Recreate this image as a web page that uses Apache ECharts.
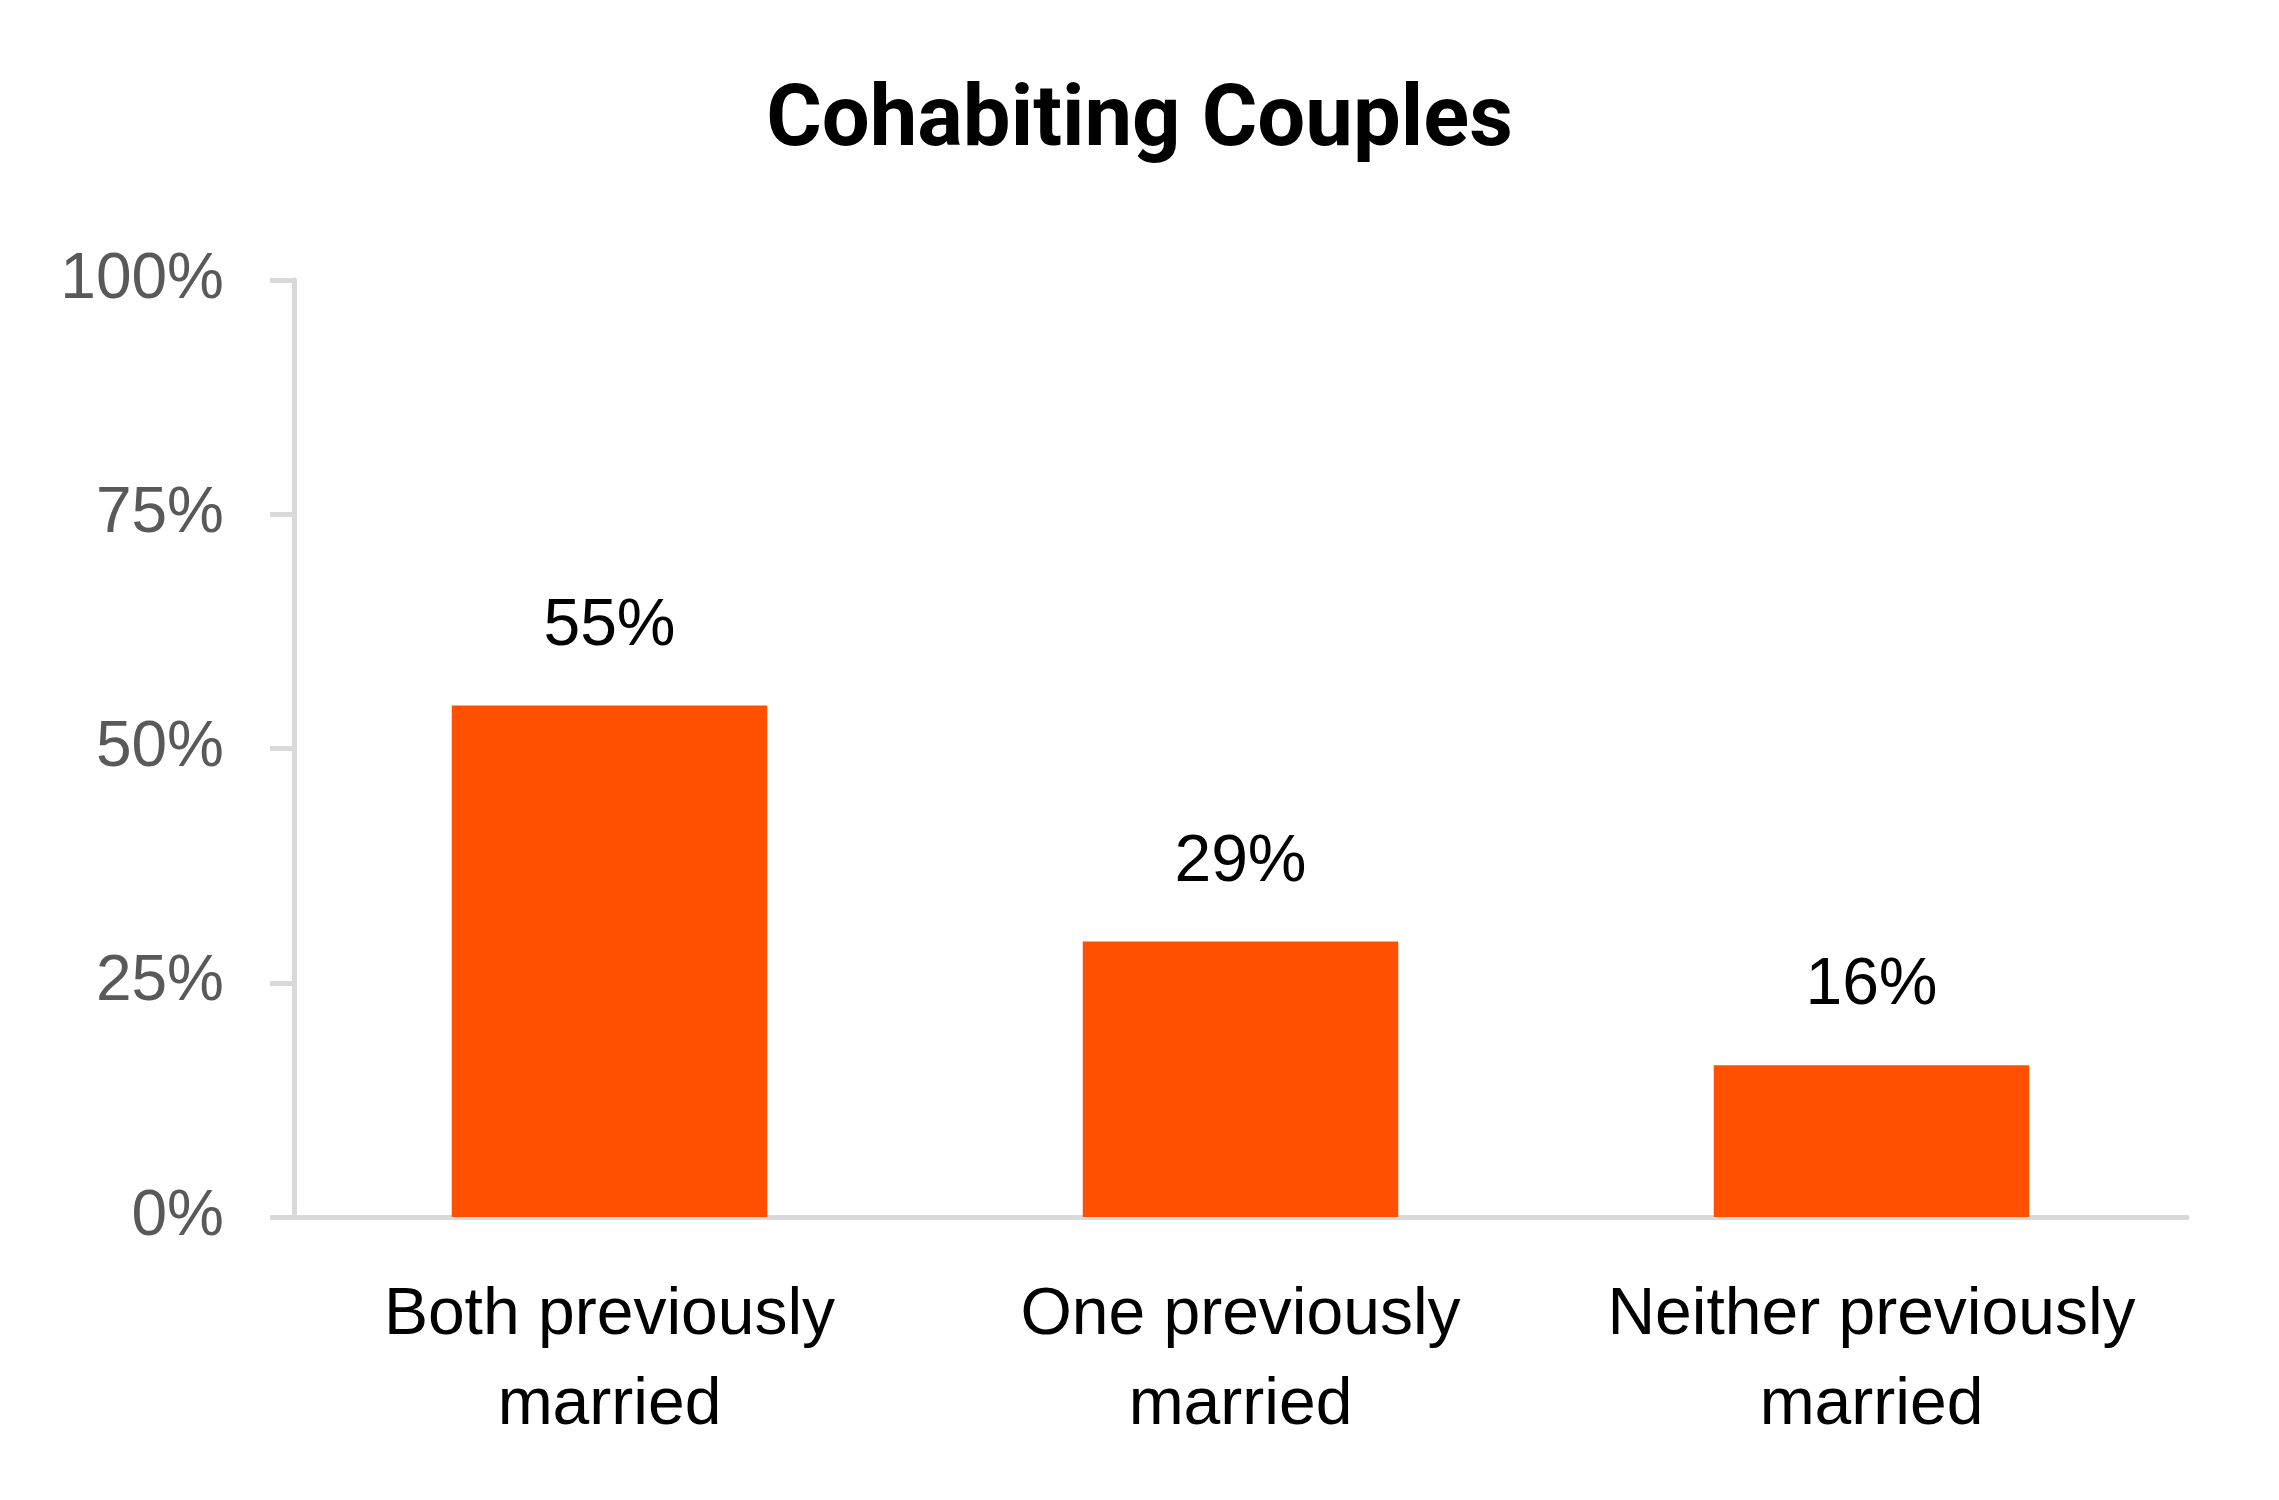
<!DOCTYPE html>
<html>
<head>
<meta charset="utf-8">
<script src="https://cdn.jsdelivr.net/npm/echarts@6/dist/echarts.min.js"></script>
<style>
html,body{margin:0;padding:0;background:#fff;}
#chart{width:2279px;height:1500px;}
</style>
</head>
<body>
<div id="chart"></div>
<script>
const titleText = 'Cohabiting Couples';
const categories = ['Both previously\nmarried', 'One previously\nmarried', 'Neither previously\nmarried'];
const values = [54.6, 29.4, 16.2];
const yTicks = [0, 25, 50, 75, 100];

const chart = echarts.init(document.getElementById('chart'), null, {renderer: 'canvas'});
chart.setOption({
  backgroundColor: '#ffffff',
  animation: false,
  title: {
    text: titleText,
    left: 'center',
    top: 76,
    textStyle: {fontFamily: 'Roboto', fontWeight: 'bold', fontSize: 85, color: '#000000'}
  },
  grid: {left: 294, right: 92, top: 280, bottom: 283, containLabel: false},
  xAxis: {
    type: 'category',
    data: categories,
    axisLine: {show: true, lineStyle: {color: '#d9d9d9', width: 5}},
    axisTick: {show: false},
    axisLabel: {
      interval: 0,
      color: '#000000', fontFamily: 'Liberation Sans', fontSize: 66, lineHeight: 90, margin: 54
    }
  },
  yAxis: {
    type: 'value',
    min: yTicks[0],
    max: yTicks[yTicks.length - 1],
    interval: 25,
    splitLine: {show: false},
    axisLine: {show: true, lineStyle: {color: '#d9d9d9', width: 5}},
    axisTick: {show: true, length: 24, lineStyle: {color: '#d9d9d9', width: 5}},
    axisLabel: {
      color: '#595959', fontFamily: 'Liberation Sans', fontSize: 64, margin: 70,
      formatter: function (v) { return v + '%'; }
    }
  },
  series: [{
    type: 'bar',
    data: values,
    barWidth: '50%',
    itemStyle: {color: '#FE5000'},
    label: {
      show: true, position: 'top', distance: 46,
      color: '#000000', fontFamily: 'Liberation Sans', fontSize: 66,
      formatter: function (p) { return Math.round(p.value) + '%'; }
    }
  }]
});
</script>
</body>
</html>
